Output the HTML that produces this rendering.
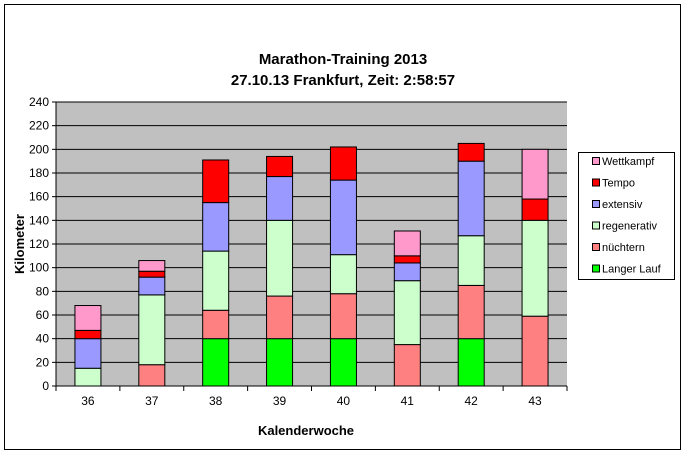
<!DOCTYPE html>
<html><head><meta charset="utf-8"><style>
body{margin:0;background:#fff;font-family:"Liberation Sans",Arial,sans-serif}
svg text{font-family:"Liberation Sans",Arial,sans-serif}
</style></head><body>
<svg id="c" width="685" height="453">
<rect x="4.5" y="4.5" width="676" height="445" fill="#fff" stroke="#000"/>
<text x="343" y="64" text-anchor="middle" font-size="15" font-weight="bold">Marathon-Training 2013</text>
<text x="343" y="85" text-anchor="middle" font-size="15" font-weight="bold">27.10.13 Frankfurt, Zeit: 2:58:57</text>
<g id="plot"></g>
<text x="306" y="435" text-anchor="middle" font-size="13" font-weight="bold">Kalenderwoche</text>
<text transform="translate(24,244) rotate(-90)" text-anchor="middle" font-size="13" font-weight="bold">Kilometer</text>
<g id="legend"></g>
</svg>
<script>
const categories=["36","37","38","39","40","41","42","43"];
const seriesNames=["Langer Lauf","nüchtern","regenerativ","extensiv","Tempo","Wettkampf"];
const langerLauf=[0,0,40,40,40,0,40,0];
const nuechtern=[0,18,24,36,38,35,45,59];
const regenerativ=[15,59,50,64,33,54,42,81];
const extensiv=[25,15,41,37,63,15,63,0];
const tempo=[7,5,36,17,28,6,15,18];
const wettkampf=[21,9,0,0,0,21,0,42];
const yTicks=[0,20,40,60,80,100,120,140,160,180,200,220,240];
const colors=["#00ff00","#ff8080","#ccffcc","#9999ff","#ff0000","#ff99cc"];
const series=[langerLauf,nuechtern,regenerativ,extensiv,tempo,wettkampf];
const NS="http://www.w3.org/2000/svg";
const L=56,R=567,T=102,B=386,yMax=240;
const y=v=>B-v/yMax*(B-T);
const cw=(R-L)/categories.length;
const x=i=>L+cw*i+cw/2;
function mk(tag,attrs,parent){const e=document.createElementNS(NS,tag);for(const k in attrs)e.setAttribute(k,attrs[k]);parent.appendChild(e);return e;}
const g=document.getElementById("plot");
const bg=mk("rect",{x:L,y:T,width:R-L,height:B-T,fill:"#c0c0c0"},g);


yTicks.forEach(t=>{
 if(t>0){const gl=mk("line",{x1:L,x2:R,y1:y(t),y2:y(t),stroke:"#000"},g);
 
 }
 const tk=mk("line",{x1:L-4,x2:L,y1:y(t),y2:y(t),stroke:"#000"},g);
 
 
 const lb=mk("text",{x:L-7,y:y(t)+4,"text-anchor":"end","font-size":"12"},g);lb.textContent=t;
 
 
});
const bw=26;
categories.forEach((c,i)=>{
 let acc=0;
 series.forEach((s,k)=>{
  const v=s[i]; if(!v)return;
  const r=mk("rect",{x:x(i)-bw/2,y:y(acc+v),width:bw,height:y(acc)-y(acc+v),fill:colors[k],stroke:"#000","stroke-width":"1"},g);
  
  
  acc+=v;
 });
 const lb=mk("text",{x:x(i),y:B+19,"text-anchor":"middle","font-size":"12"},g);lb.textContent=c;
 
 
});
for(let i=0;i<=categories.length;i++){
 const tk=mk("line",{x1:L+cw*i,x2:L+cw*i,y1:B,y2:B+5,stroke:"#000"},g);
 
 
}
const ax=mk("line",{x1:L,x2:L,y1:T,y2:B,stroke:"#000"},g);


const ax2=mk("line",{x1:L,x2:R,y1:B,y2:B,stroke:"#000"},g);


const lg=document.getElementById("legend");
const box=mk("rect",{x:578.5,y:152.5,width:96,height:127,fill:"#fff",stroke:"#000"},lg);


for(let k=5;k>=0;k--){
 const row=5-k, yy=162+row*21.5;
 const sw=mk("rect",{x:592.5,y:yy-4.5,width:7,height:7,fill:colors[k],stroke:"#000"},lg);
 
 
 const t=mk("text",{x:602,y:yy+3,"font-size":"11"},lg);t.textContent=seriesNames[k];
 
 
}
</script>
</body></html>
